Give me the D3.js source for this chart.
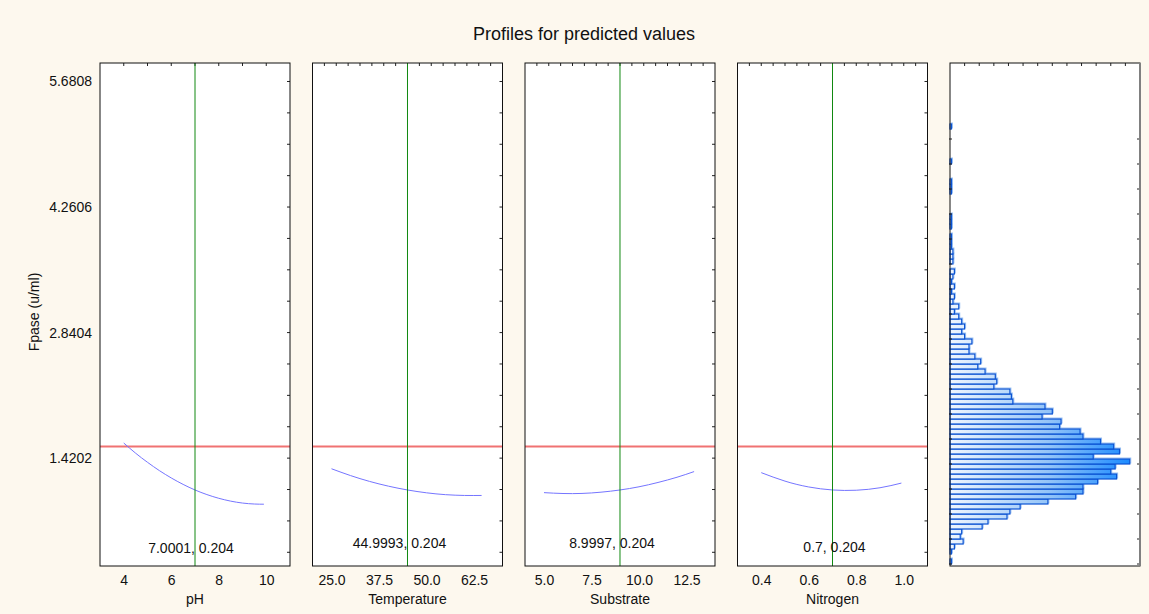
<!DOCTYPE html>
<html>
<head>
<meta charset="utf-8">
<script src="https://cdn.jsdelivr.net/npm/d3@7"></script>
<style>
    body { margin: 0; background: #fdf8ee; }
    svg text { font-family: "Liberation Sans", Arial, sans-serif; fill: #111; }
</style>
</head>
<body>
<div id="chart"></div>
<script>
// chart texts
var titleText = "Profiles for predicted values";
var yAxisTitle = "Fpase (u/ml)";
var factorNames = ["pH", "Temperature", "Substrate", "Nitrogen"];
var currentLabels = ["7.0001, 0.204", "44.9993, 0.204", "8.9997, 0.204", "0.7, 0.204"];

// y axis (response) tick labels
var yTickValues = [1.4202, 2.8404, 4.2606, 5.6808];

// current factor settings (green lines) and the red reference level
var currentValues = [7.0001, 44.9993, 8.9997, 0.7];
var referenceLevel = 1.551;

// x tick labels for each factor
var phTicks = [4, 6, 8, 10];
var temperatureTicks = [25, 37.5, 50, 62.5];
var substrateTicks = [5, 7.5, 10, 12.5];
var nitrogenTicks = [0.4, 0.6, 0.8, 1.0];

// predicted profiles
var phX = [4, 4.5, 5, 5.5, 6, 6.5, 7, 7.5, 8, 8.5, 9, 9.5, 9.9];
var phY = [1.591, 1.476, 1.373, 1.279, 1.196, 1.123, 1.060, 1.008, 0.966, 0.934, 0.912, 0.901, 0.899];
var temperatureX = [25, 30, 35, 40, 45, 50, 55, 60, 64.5];
var temperatureY = [1.300, 1.223, 1.157, 1.103, 1.060, 1.028, 1.007, 0.998, 0.998];
var substrateX = [5, 6, 7, 8, 9, 10, 11, 12, 12.9];
var substrateY = [1.030, 1.020, 1.021, 1.035, 1.060, 1.096, 1.145, 1.204, 1.268];
var nitrogenX = [0.4, 0.5, 0.6, 0.7, 0.8, 0.9, 0.99];
var nitrogenY = [1.256, 1.160, 1.094, 1.060, 1.057, 1.085, 1.138];

// histogram of predicted values, counts from the lowest bin upwards
var histCounts = [1, 0, 1, 3, 9, 7, 8, 22, 26, 39, 41, 48, 67, 86, 91, 91, 101, 114, 110, 113,
    123, 98, 116, 112, 103, 91, 89, 75, 76, 63, 70, 65, 43, 42, 41, 30, 32, 31, 24, 19,
    21, 17, 13, 13, 15, 10, 8, 10, 8, 6, 3, 6, 2, 3, 1, 3, 1, 2, 3, 0,
    2, 2, 2, 1, 1, 1, 0, 1, 1, 1, 0, 0, 0, 0, 1, 1, 1, 0, 0, 0,
    1, 0, 0, 0, 0, 0, 0, 1];
var histBinStart = 0.2226;
var histBinWidth = 0.05656;

// layout
var width = 1149, height = 614;
var panelTop = 63, panelBottom = 566, panelW = 190;
var panelLeft = [100, 312.5, 525, 737.5, 950];
var xDomains = [[3, 11], [20, 70], [4, 14], [0.3, 1.1]];
var minorSteps = [1, 3.125, 0.625, 0.05];
var tickFormats = [d3.format("d"), d3.format(".1f"), d3.format(".1f"), d3.format(".1f")];
var labelPos = [[-4, 552.5], [-8, 548.3], [-8, 548.3], [2, 552.3]]; // dx from green line, baseline y

var profiles = [
    {ticks: phTicks, xs: phX, ys: phY},
    {ticks: temperatureTicks, xs: temperatureX, ys: temperatureY},
    {ticks: substrateTicks, xs: substrateX, ys: substrateY},
    {ticks: nitrogenTicks, xs: nitrogenX, ys: nitrogenY}
];

var svg = d3.select("#chart").append("svg")
    .attr("width", width)
    .attr("height", height);

svg.append("rect")
    .attr("width", width)
    .attr("height", height)
    .attr("fill", "#fdf8ee");

var y = d3.scaleLinear().domain([0.2, 5.89]).range([panelBottom, panelTop]);
var yMinor = d3.range(1, 17).map(function(k) { return k * yTickValues[0] / 4; });

svg.append("text")
    .attr("x", 584)
    .attr("y", 40)
    .attr("text-anchor", "middle")
    .style("font-size", "18px")
    .text(titleText);

svg.append("text")
    .attr("transform", "translate(39,312) rotate(-90)")
    .attr("text-anchor", "middle")
    .style("font-size", "14px")
    .text(yAxisTitle);

// y axis labels on the first panel
var yAxis = svg.append("g")
    .attr("transform", "translate(" + panelLeft[0] + ",0)")
    .call(d3.axisLeft(y).tickValues(yTickValues).tickSize(0).tickPadding(8).tickFormat(d3.format(".4f")));
yAxis.select(".domain").remove();
yAxis.attr("font-family", null).attr("font-size", null);
yAxis.selectAll("text").style("font-size", "14px");

profiles.forEach(function(p, i) {
    var x0 = panelLeft[i], x1 = x0 + panelW;
    var x = d3.scaleLinear().domain(xDomains[i]).range([x0, x1]);
    var g = svg.append("g");

    g.append("rect")
        .attr("x", x0).attr("y", panelTop)
        .attr("width", panelW).attr("height", panelBottom - panelTop)
        .attr("fill", "#fff");

    // minor ticks along top
    var n = Math.round((xDomains[i][1] - xDomains[i][0]) / minorSteps[i]);
    var topTicks = d3.range(1, n).map(function(k) { return xDomains[i][0] + k * minorSteps[i]; });
    g.selectAll("line.top").data(topTicks).enter().append("line")
        .attr("x1", function(d) { return x(d); }).attr("x2", function(d) { return x(d); })
        .attr("y1", panelTop).attr("y2", panelTop + 3)
        .attr("stroke", "#222");

    // minor ticks along right side
    g.selectAll("line.right").data(yMinor).enter().append("line")
        .attr("x1", x1 - 3).attr("x2", x1)
        .attr("y1", function(d) { return y(d); }).attr("y2", function(d) { return y(d); })
        .attr("stroke", "#222");

    g.append("line")
        .attr("x1", x0).attr("x2", x1)
        .attr("y1", y(referenceLevel)).attr("y2", y(referenceLevel))
        .attr("stroke", "#f07272")
        .attr("stroke-width", 2);

    var pts = p.xs.map(function(v, j) { return [v, p.ys[j]]; });
    g.append("path")
        .datum(pts)
        .attr("fill", "none")
        .attr("stroke", "#7575ff")
        .attr("stroke-width", 1)
        .attr("d", d3.line()
            .x(function(d) { return x(d[0]); })
            .y(function(d) { return y(d[1]); })
            .curve(d3.curveNatural));

    var cx = x(currentValues[i]);
    g.append("line")
        .attr("x1", cx).attr("x2", cx)
        .attr("y1", panelTop).attr("y2", panelBottom)
        .attr("stroke", "#118811")
        .attr("stroke-width", 1);

    g.append("text")
        .attr("x", cx + labelPos[i][0])
        .attr("y", labelPos[i][1])
        .attr("text-anchor", "middle")
        .style("font-size", "14px")
        .text(currentLabels[i]);

    g.append("rect")
        .attr("x", x0).attr("y", panelTop)
        .attr("width", panelW).attr("height", panelBottom - panelTop)
        .attr("fill", "none")
        .attr("stroke", "#111");

    var xAxis = g.append("g")
        .attr("transform", "translate(0," + panelBottom + ")")
        .call(d3.axisBottom(x).tickValues(p.ticks).tickSize(0).tickPadding(9).tickFormat(tickFormats[i]));
    xAxis.select(".domain").remove();
    xAxis.attr("font-family", null).attr("font-size", null);
    xAxis.selectAll("text").style("font-size", "14px");

    g.append("text")
        .attr("x", x0 + panelW / 2)
        .attr("y", 603.5)
        .attr("text-anchor", "middle")
        .style("font-size", "14px")
        .text(factorNames[i]);
});

// histogram panel
var hx0 = panelLeft[4], hx1 = hx0 + panelW;
var xh = d3.scaleLinear().domain([0, 130]).range([hx0, hx1]);
var hg = svg.append("g");

var grad = svg.append("defs").append("linearGradient")
    .attr("id", "barFill")
    .attr("gradientUnits", "userSpaceOnUse")
    .attr("x1", xh(0)).attr("x2", xh(123))
    .attr("y1", 0).attr("y2", 0);
grad.append("stop").attr("offset", 0).attr("stop-color", "#eef5fe");
grad.append("stop").attr("offset", 0.55).attr("stop-color", "#93c4f8");
grad.append("stop").attr("offset", 1).attr("stop-color", "#1c8bff");

hg.append("rect")
    .attr("x", hx0).attr("y", panelTop)
    .attr("width", panelW).attr("height", panelBottom - panelTop)
    .attr("fill", "#fff");

var bins = histCounts.map(function(c, i) {
    return {count: c, lo: histBinStart + i * histBinWidth, hi: histBinStart + (i + 1) * histBinWidth};
}).filter(function(d) { return d.count > 0; });

// light offset edge behind each bar
hg.selectAll("rect.shade").data(bins).enter().append("rect")
    .attr("x", hx0 + 1)
    .attr("y", function(d) { return y(d.hi) - 1; })
    .attr("width", function(d) { return xh(d.count) - xh(0); })
    .attr("height", function(d) { return y(d.lo) - y(d.hi); })
    .attr("fill", "none")
    .attr("stroke", "#9cc3f3")
    .attr("stroke-width", 1);

hg.selectAll("rect.bar").data(bins).enter().append("rect")
    .attr("x", hx0)
    .attr("y", function(d) { return y(d.hi); })
    .attr("width", function(d) { return xh(d.count) - xh(0); })
    .attr("height", function(d) { return y(d.lo) - y(d.hi); })
    .attr("fill", "url(#barFill)")
    .attr("stroke", "#0a52d2")
    .attr("stroke-width", 1.2);

var histTopTicks = d3.range(10, 130, 10);
hg.selectAll("line.top").data(histTopTicks).enter().append("line")
    .attr("x1", function(d) { return xh(d); }).attr("x2", function(d) { return xh(d); })
    .attr("y1", panelTop).attr("y2", panelTop + 3)
    .attr("stroke", "#222");

var histSideTicks = d3.range(0, histCounts.length + 1, 5)
    .map(function(k) { return histBinStart + k * histBinWidth; })
    .filter(function(v) { return y(v) > panelTop + 2; });
hg.selectAll("line.right").data(histSideTicks).enter().append("line")
    .attr("x1", hx1 - 3).attr("x2", hx1)
    .attr("y1", function(d) { return y(d); }).attr("y2", function(d) { return y(d); })
    .attr("stroke", "#222");
hg.selectAll("line.left").data(histSideTicks).enter().append("line")
    .attr("x1", hx0 - 1).attr("x2", hx0 + 2)
    .attr("y1", function(d) { return y(d); }).attr("y2", function(d) { return y(d); })
    .attr("stroke", "#222");

hg.append("rect")
    .attr("x", hx0).attr("y", panelTop)
    .attr("width", panelW).attr("height", panelBottom - panelTop)
    .attr("fill", "none")
    .attr("stroke", "#111");
hg.append("line")
    .attr("x1", hx1).attr("x2", hx1)
    .attr("y1", panelTop).attr("y2", panelBottom)
    .attr("stroke", "#808080")
    .attr("stroke-width", 2);
</script>
</body>
</html>
